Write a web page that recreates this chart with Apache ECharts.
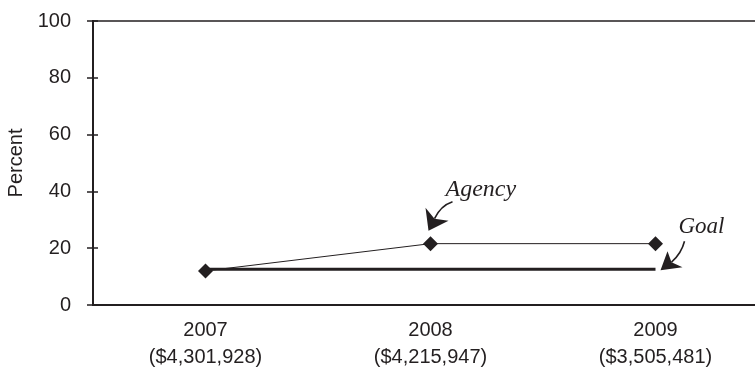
<!DOCTYPE html>
<html><head><meta charset="utf-8">
<script src="https://cdn.jsdelivr.net/npm/echarts@6/dist/echarts.min.js"></script>
<style>html,body{margin:0;padding:0;background:#fff}#c{width:755px;height:381px}</style>
</head><body><div id="c"></div>
<script>
// Fiscal years and annual budgets shown under each year
const years = ['2007', '2008', '2009'];
const budgets = ['($4,301,928)', '($4,215,947)', '($3,505,481)'];
// Percent values
const agency = [12, 21.6, 21.6];
const goal = [12.6, 12.6, 12.6];
const yMin = 0, yMax = 100, yStep = 20;

const INK = '#231f20';
const chart = echarts.init(document.getElementById('c'), null, {renderer: 'canvas'});
const sans = 'Liberation Sans, Arial, sans-serif';
const serif = 'Liberation Serif, Times New Roman, serif';

const baseX = {
  type: 'category', data: years, boundaryGap: true,
  axisLine: {lineStyle: {color: INK, width: 2}},
  splitLine: {show: false}
};
const baseY = {
  type: 'value', min: yMin, max: yMax, interval: yStep,
  axisLine: {show: true, lineStyle: {color: INK, width: 2}},
  splitLine: {show: false}
};

chart.setOption({
  animation: false,
  grid: {
    left: 93, top: 21, width: 675, height: 284,
    outerBoundsMode: 'none', containLabel: false,
    show: true, borderColor: INK, borderWidth: 1.5
  },
  xAxis: [
    Object.assign({}, baseX, {
      axisTick: {alignWithLabel: true, length: 6, lineStyle: {color: INK, width: 1.5}},
      axisLabel: {
        color: INK, fontFamily: sans, fontSize: 20, lineHeight: 27, margin: 12,
        formatter: (v, i) => v + '\n' + budgets[i]
      }
    }),
    Object.assign({}, baseX, {
      position: 'bottom',
      axisTick: {alignWithLabel: true, inside: true, length: 4, lineStyle: {color: INK, width: 1.5}},
      axisLabel: {show: false}
    })
  ],
  yAxis: [
    Object.assign({}, baseY, {
      name: 'Percent', nameLocation: 'middle', nameGap: 62, nameRotate: 90,
      nameTextStyle: {color: INK, fontFamily: sans, fontSize: 20},
      axisTick: {show: true, length: 6, lineStyle: {color: INK, width: 1.5}},
      axisLabel: {color: INK, fontFamily: sans, fontSize: 20, margin: 22}
    }),
    Object.assign({}, baseY, {
      position: 'left',
      axisTick: {show: true, inside: true, length: 5, lineStyle: {color: INK, width: 1.5}},
      axisLabel: {show: false}
    })
  ],
  series: [
    {
      name: 'Goal', type: 'line', data: goal, showSymbol: false, symbol: 'none',
      lineStyle: {color: INK, width: 3}, z: 2
    },
    {
      name: 'Agency', type: 'line', data: agency, symbol: 'diamond', symbolSize: 15,
      itemStyle: {color: INK}, lineStyle: {color: INK, width: 1}, z: 3
    }
  ]
});

// Annotation arrows anchored to the data points they label
function arrowParts(p, o) {
  const at = (d) => [p[0] + d[0], p[1] + d[1]];
  const s = at(o.start), c = at(o.ctrl), n = at(o.notch);
  return [
    {type: 'bezierCurve', shape: {x1: s[0], y1: s[1], x2: n[0], y2: n[1], cpx1: c[0], cpy1: c[1]},
     style: {stroke: INK, lineWidth: 1.6, fill: null}, z: 10},
    {type: 'polygon', shape: {points: [at(o.wing1), n, at(o.wing2), at(o.tip)]},
     style: {fill: INK}, z: 10},
    {type: 'text', x: p[0] + o.text[0], y: p[1] + o.text[1],
     style: {text: o.label, fill: INK, fontFamily: serif, fontStyle: 'italic', fontSize: o.size,
             align: 'left', verticalAlign: 'top'}, z: 10}
  ];
}
const pA = chart.convertToPixel({seriesIndex: 1}, [1, agency[1]]);
const pG = chart.convertToPixel({seriesIndex: 0}, [2, goal[2]]);
chart.setOption({
  graphic: [].concat(
    arrowParts(pA, {start: [22, -42], ctrl: [10, -38], notch: [4, -25],
      wing1: [-5, -36], wing2: [18, -23], tip: [-2, -13], text: [15, -66], size: 24, label: 'Agency'}),
    arrowParts(pG, {start: [29, -28], ctrl: [26, -16], notch: [16, -7],
      wing1: [12, -18], wing2: [27, -2], tip: [5, 1], text: [23, -54], size: 23, label: 'Goal'})
  )
});
</script>
</body></html>
